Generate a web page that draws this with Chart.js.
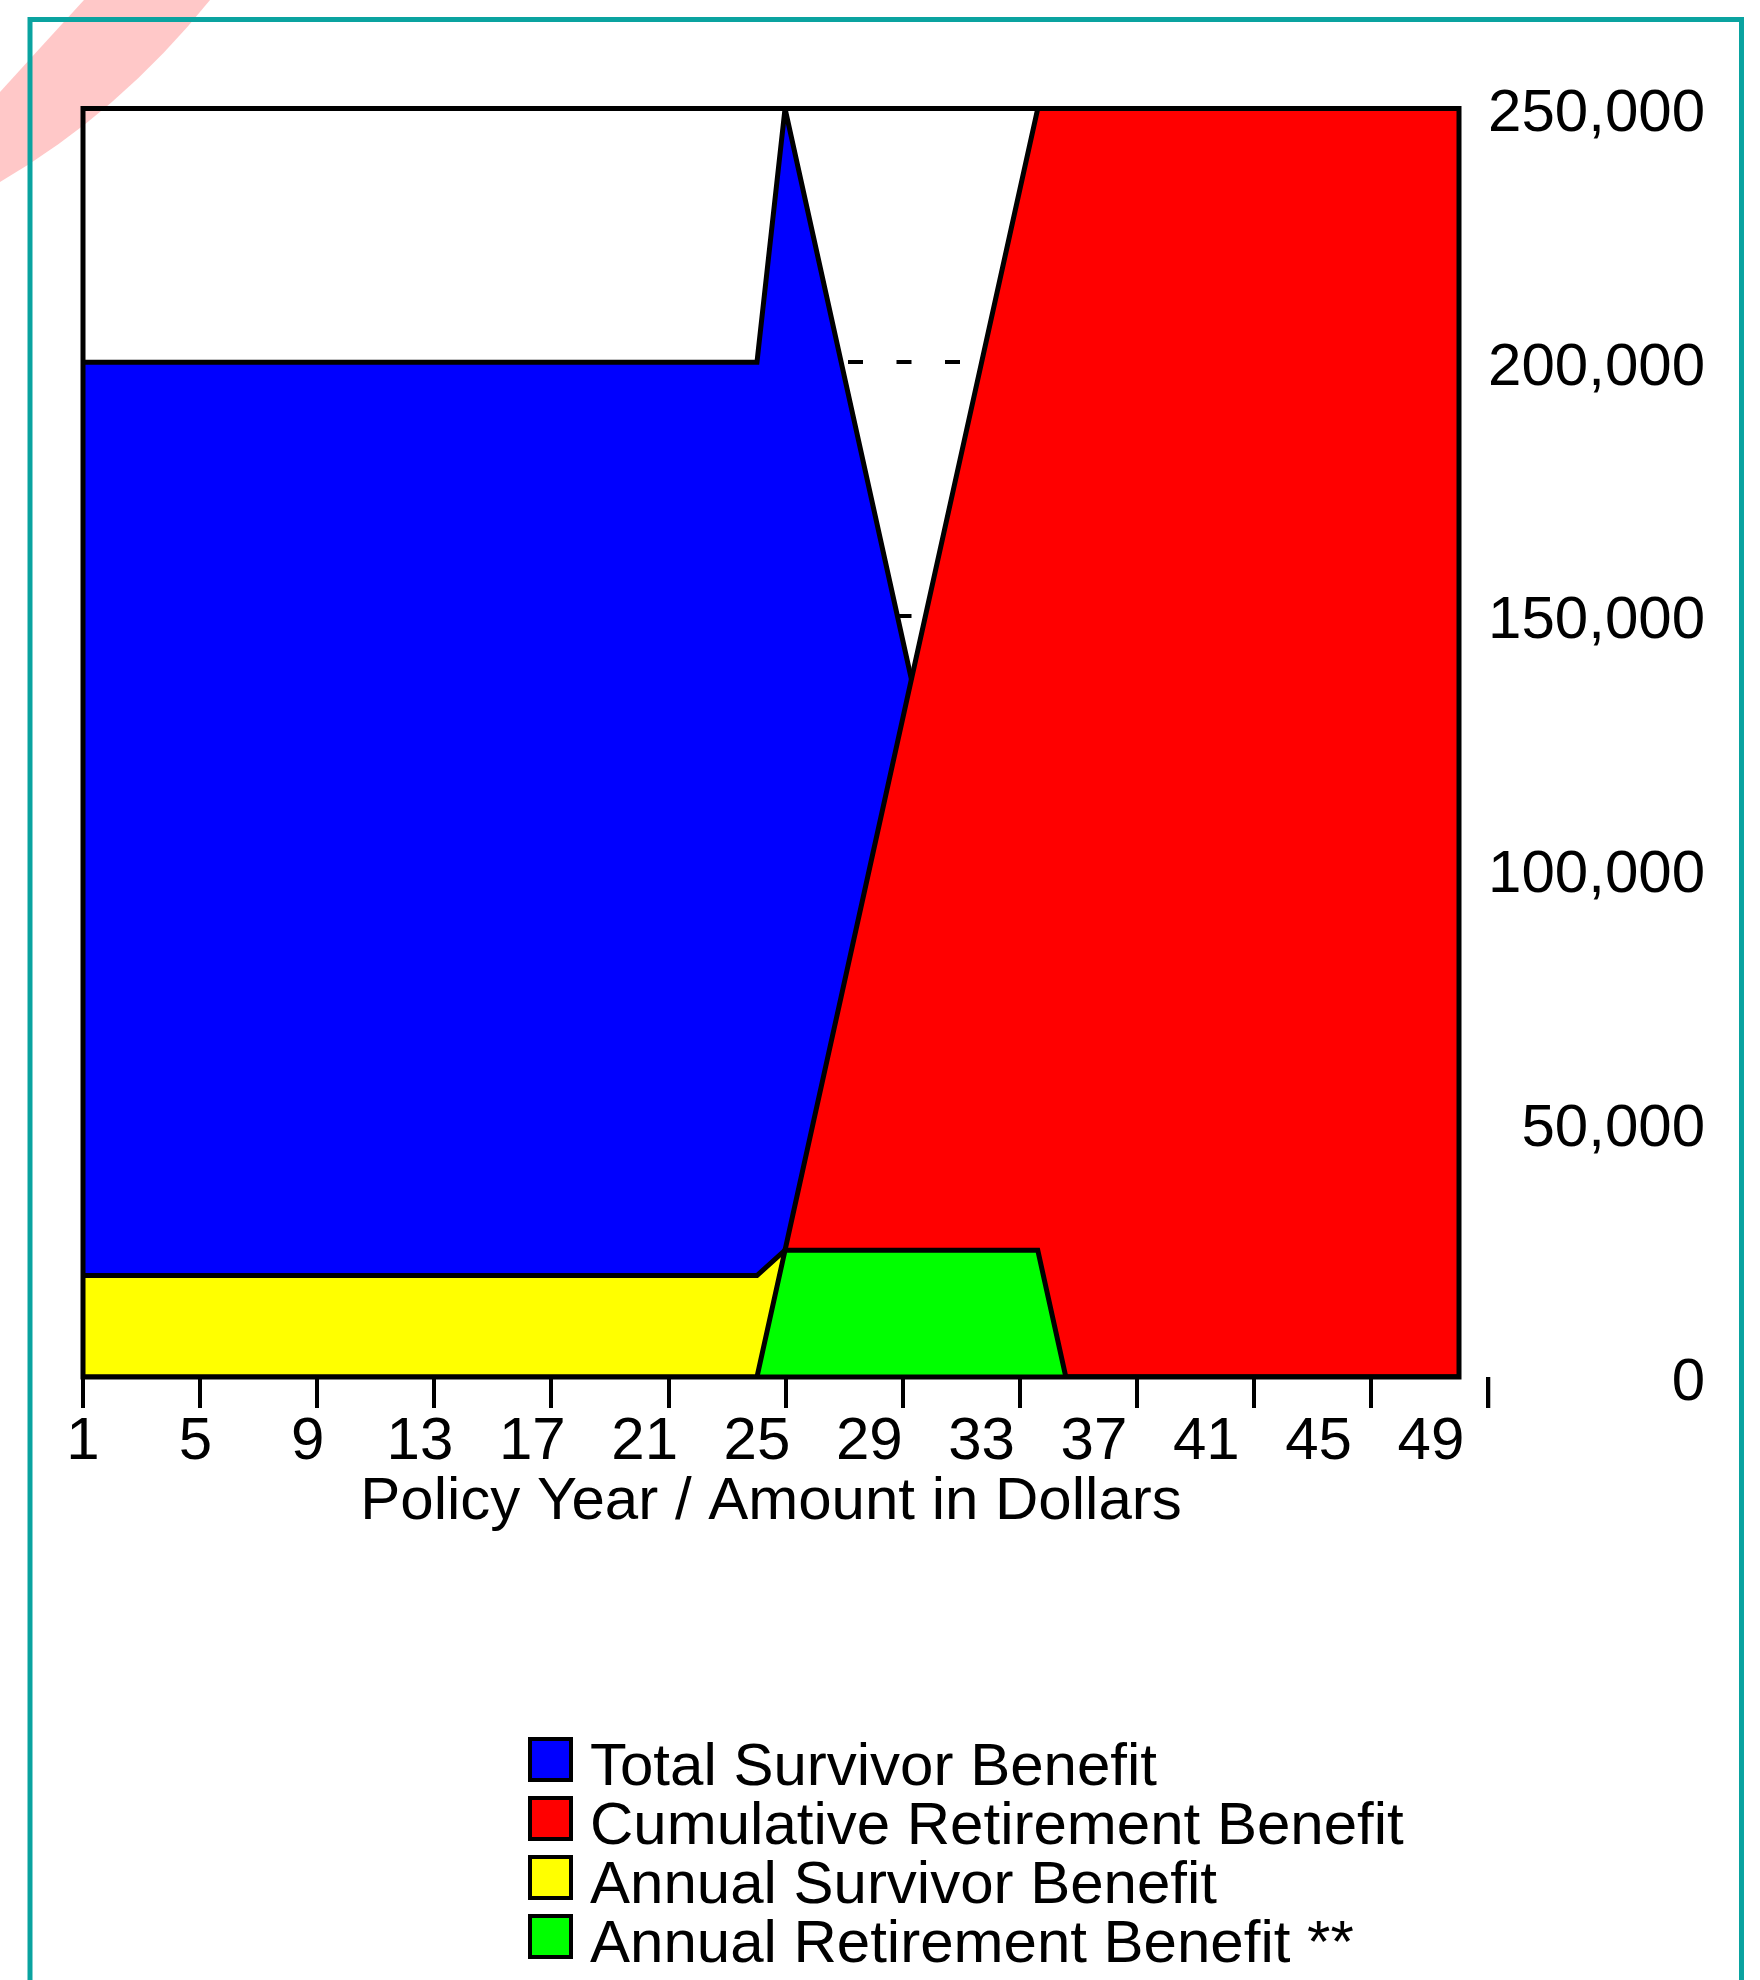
<!DOCTYPE html>
<html>
<head>
<meta charset="utf-8">
<title>Policy Year / Amount in Dollars</title>
<script src="https://cdn.jsdelivr.net/npm/chart.js@4.4.1/dist/chart.umd.min.js"></script>
<style>
  html, body { margin: 0; padding: 0; background: #fff; }
  #wrap { position: relative; width: 1760px; height: 1980px; }
</style>
</head>
<body>
<div id="wrap"><canvas id="benefitChart"></canvas></div>
<script>
// Policy years (x values) and the tick values used on both axes
const years = [
  1, 2, 3, 4, 5, 6, 7, 8, 9, 10,
  11, 12, 13, 14, 15, 16, 17, 18, 19, 20,
  21, 22, 23, 24, 25, 26, 27, 28, 29, 30,
  31, 32, 33, 34, 35, 36, 37, 38, 39, 40,
  41, 42, 43, 44, 45, 46, 47, 48, 49, 50
];
const yearTicks = [1, 5, 9, 13, 17, 21, 25, 29, 33, 37, 41, 45, 49];
const amountTicks = [0, 50000, 100000, 150000, 200000, 250000];

const seriesNames = [
  'Total Survivor Benefit',
  'Cumulative Retirement Benefit',
  'Annual Survivor Benefit',
  'Annual Retirement Benefit **'
];
const seriesColors = ['#0000ff', '#ff0000', '#ffff00', '#00ff00'];

// values, one per policy year
const totalSurvivor = [
  200000, 200000, 200000, 200000, 200000, 200000, 200000, 200000, 200000, 200000,
  200000, 200000, 200000, 200000, 200000, 200000, 200000, 200000, 200000, 200000,
  200000, 200000, 200000, 200000, 200000, 250000, 225000, 200000, 175000, 150000,
  125000, 100000, 75000, 50000, 25000, 0, 0, 0, 0, 0,
  0, 0, 0, 0, 0, 0, 0, 0, 0, 0
];
const cumulativeRetirement = [
  0, 0, 0, 0, 0, 0, 0, 0, 0, 0,
  0, 0, 0, 0, 0, 0, 0, 0, 0, 0,
  0, 0, 0, 0, 0, 25000, 50000, 75000, 100000, 125000,
  150000, 175000, 200000, 225000, 250000, 250000, 250000, 250000, 250000, 250000,
  250000, 250000, 250000, 250000, 250000, 250000, 250000, 250000, 250000, 250000
];
const annualSurvivor = [
  20000, 20000, 20000, 20000, 20000, 20000, 20000, 20000, 20000, 20000,
  20000, 20000, 20000, 20000, 20000, 20000, 20000, 20000, 20000, 20000,
  20000, 20000, 20000, 20000, 20000, 25000, 0, 0, 0, 0,
  0, 0, 0, 0, 0, 0, 0, 0, 0, 0,
  0, 0, 0, 0, 0, 0, 0, 0, 0, 0
];
const annualRetirement = [
  0, 0, 0, 0, 0, 0, 0, 0, 0, 0,
  0, 0, 0, 0, 0, 0, 0, 0, 0, 0,
  0, 0, 0, 0, 0, 25000, 25000, 25000, 25000, 25000,
  25000, 25000, 25000, 25000, 25000, 0, 0, 0, 0, 0,
  0, 0, 0, 0, 0, 0, 0, 0, 0, 0
];

Chart.defaults.font.family = '"Liberation Sans", Arial, sans-serif';
Chart.defaults.font.size = 60;
Chart.defaults.color = '#000';

// white page, pink corner mark and the teal frame round the page
const pagePlugin = {
  id: 'page',
  beforeDraw(chart) {
    const ctx = chart.ctx;
    ctx.save();
    ctx.fillStyle = '#fff';
    ctx.fillRect(0, 0, chart.width, chart.height);
    ctx.fillStyle = '#ffc8c8';
    ctx.beginPath();
    ctx.moveTo(0, 92);
    ctx.quadraticCurveTo(40, 48, 84, 0);
    ctx.lineTo(210, 0);
    ctx.quadraticCurveTo(120, 112, 0, 182);
    ctx.closePath();
    ctx.fill();
    ctx.strokeStyle = '#0aa3a0';
    ctx.lineWidth = 5;
    ctx.strokeRect(30, 19.5, 1711.5, 2100);
    ctx.restore();
  }
};

// black box round the plot, plus tick marks that land past its right edge
const framePlugin = {
  id: 'frame',
  afterDatasetsDraw(chart) {
    const { ctx, chartArea: a } = chart;
    ctx.save();
    ctx.strokeStyle = '#000';
    ctx.lineWidth = 5;
    ctx.strokeRect(a.left, a.top, a.right - a.left, a.bottom - a.top);
    const s = chart.scales.xMarks;
    ctx.lineWidth = 4;
    s.ticks.forEach(t => {
      const px = s.getPixelForValue(t.value);
      if (px > a.right + 1) {
        ctx.beginPath();
        ctx.moveTo(px, s.top);
        ctx.lineTo(px, s.top + 31);
        ctx.stroke();
      }
    });
    ctx.restore();
  }
};

// legend stacked one entry per row under the chart
const legendPlugin = {
  id: 'stackedLegend',
  afterDraw(chart) {
    const ctx = chart.ctx;
    ctx.save();
    ctx.font = '60px "Liberation Sans", Arial, sans-serif';
    ctx.textBaseline = 'alphabetic';
    ctx.textAlign = 'left';
    chart.data.datasets.forEach((ds, i) => {
      const top = 1737 + i * 59;
      ctx.fillStyle = ds.backgroundColor;
      ctx.fillRect(530, top + 2, 41, 41);
      ctx.strokeStyle = '#000';
      ctx.lineWidth = 4;
      ctx.strokeRect(530, top + 2, 41, 41);
      ctx.fillStyle = '#000';
      ctx.fillText(ds.label, 590, top + 48);
    });
    ctx.restore();
  }
};

const seriesValues = [totalSurvivor, cumulativeRetirement, annualSurvivor, annualRetirement];

const ctx = document.getElementById('benefitChart').getContext('2d');
new Chart(ctx, {
  type: 'line',
  data: {
    labels: years,
    datasets: seriesValues.map((vals, i) => ({
      label: seriesNames[i],
      data: vals,
      backgroundColor: seriesColors[i],
      borderColor: '#000',
      borderWidth: 5,
      pointRadius: 0,
      tension: 0,
      fill: 'origin',
      order: 4 - i, // first series sits at the back
      xAxisID: 'x',
      yAxisID: 'y'
    }))
  },
  options: {
    responsive: true,
    maintainAspectRatio: false,
    devicePixelRatio: 1,
    animation: false,
    layout: { padding: { left: 83, top: 108.5, right: 55, bottom: 442 } },
    plugins: {
      legend: { display: false },
      tooltip: { enabled: false }
    },
    scales: {
      x: {
        type: 'linear',
        position: 'bottom',
        weight: 1,
        min: 1,
        max: 50,
        afterBuildTicks: s => { s.ticks = yearTicks.map(v => ({ value: v })); },
        afterFit: s => { s.height = 130; },
        grid: { display: false, drawTicks: false },
        border: { display: false },
        ticks: { autoSkip: false, maxRotation: 0, minRotation: 0, padding: -2, callback: v => String(v) },
        title: { display: true, text: 'Policy Year / Amount in Dollars', padding: 0 }
      },
      xMarks: {
        type: 'linear',
        position: 'bottom',
        weight: 0,
        min: 1,
        max: 48,
        afterBuildTicks: s => { s.ticks = yearTicks.map(v => ({ value: v })); },
        afterFit: s => { s.height = 31; },
        grid: { drawOnChartArea: false, drawTicks: true, tickLength: 31, color: '#000', lineWidth: 4 },
        border: { display: false },
        ticks: { display: false, autoSkip: false }
      },
      y: {
        position: 'right',
        min: 0,
        max: 250000,
        afterBuildTicks: s => { s.ticks = amountTicks.map(v => ({ value: v })); },
        afterFit: s => { s.width = 246; },
        grid: { color: '#000', lineWidth: 4, drawTicks: false },
        border: { display: false, dash: [15, 33.5], dashOffset: 11 },
        ticks: { padding: 33, crossAlign: 'far', labelOffset: 6, callback: v => v.toLocaleString('en-US') }
      }
    }
  },
  plugins: [pagePlugin, framePlugin, legendPlugin]
});
</script>
</body>
</html>
